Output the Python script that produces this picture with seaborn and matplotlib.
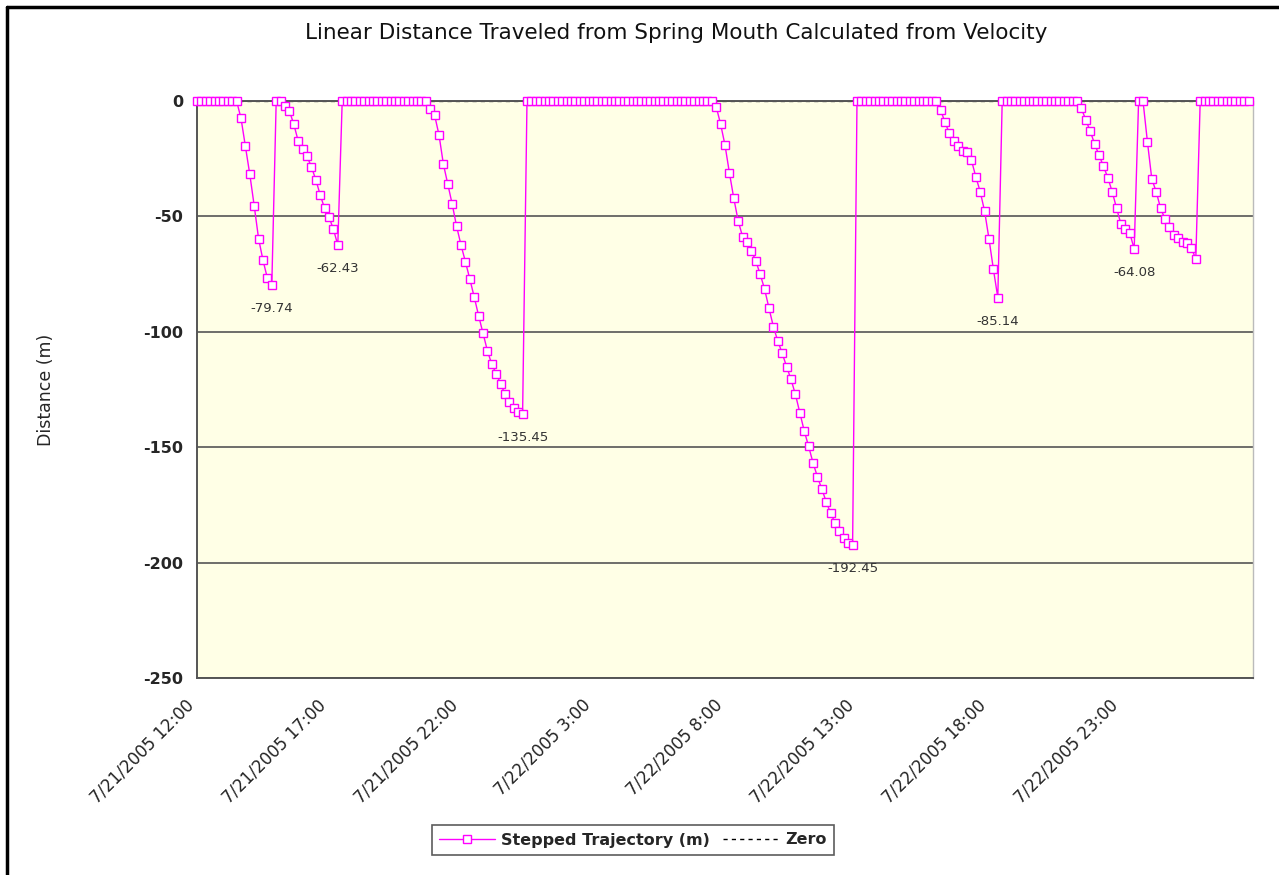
import pandas as pd
import matplotlib
matplotlib.use("Agg")
import matplotlib.pyplot as plt
import matplotlib.transforms as mtransforms
import seaborn as sns
from matplotlib.lines import Line2D

# readings every 10 minutes starting 7/21/2005 12:00
start_time = "2005-07-21 12:00"
seg1 = [-7.5, -19.5, -31.8, -45.4, -59.7, -69.0, -76.8, -79.74]
seg2 = [-2.0, -4.3, -10.1, -17.3, -20.8, -24.0, -28.5, -34.1, -40.7, -46.5,
        -50.3, -55.5, -62.43]
seg3 = [-3.5, -6.1, -14.7, -27.4, -36.1, -44.7, -54.3, -62.4, -69.6, -77.1,
        -84.9, -93.0, -100.7, -108.2, -114.1, -118.1, -122.6, -127.0, -130.6,
        -133.2, -134.6, -135.45]
seg4 = [-2.5, -10.0, -19.1, -31.1, -42.2, -52.0, -58.8, -61.2, -64.9, -69.3,
        -75.1, -81.5, -89.8, -97.8, -104.0, -109.3, -115.1, -120.6, -127.1,
        -135.1, -142.9, -149.6, -156.7, -162.8, -168.1, -173.6, -178.6, -182.7,
        -186.3, -189.5, -191.4, -192.45]
seg5 = [-3.9, -9.2, -14.0, -17.3, -19.4, -21.5, -22.2, -25.6, -32.8, -39.3,
        -47.7, -59.8, -72.9, -85.14]
seg6 = [-3.2, -8.2, -13.0, -18.6, -23.4, -28.2, -33.2, -39.3, -46.5, -53.4,
        -55.5, -57.3, -64.08]
seg7 = [-17.6, -33.8, -39.3, -46.5, -51.1, -54.5, -58.1, -59.5, -61.0, -61.5,
        -63.6, -68.5]

trajectory = ([0] * 10 + seg1 + [0] * 2 + seg2 + [0] * 20 + seg3 + [0] * 43 + seg4
              + [0] * 19 + seg5 + [0] * 18 + seg6 + [0] * 2 + seg7 + [0] * 12)
min_labels = [-79.74, -62.43, -135.45, -192.45, -85.14, -64.08]

tick_times = ["2005-07-21 12:00", "2005-07-21 17:00", "2005-07-21 22:00",
              "2005-07-22 03:00", "2005-07-22 08:00", "2005-07-22 13:00",
              "2005-07-22 18:00", "2005-07-22 23:00", "2005-07-23 04:00"]
tick_labels = ["7/21/2005 12:00", "7/21/2005 17:00", "7/21/2005 22:00",
               "7/22/2005 3:00", "7/22/2005 8:00", "7/22/2005 13:00",
               "7/22/2005 18:00", "7/22/2005 23:00", ""]
y_ticks = [0, -50, -100, -150, -200, -250]

df = pd.DataFrame({
    "time": pd.date_range(start_time, periods=len(trajectory), freq="10min"),
    "dist": trajectory,
})
df["zero"] = 0

sns.set_style("white")
plt.rcParams["font.family"] = ["DejaVu Sans"]

fig = plt.figure(figsize=(12.79, 8.75), dpi=100)
ax = fig.add_axes([197 / 1279, 1 - 678 / 875, (1253 - 197) / 1279, (678 - 101) / 875])
ax.set_facecolor("#FFFFE6")

# zero series sits under the top border, like in the original
sns.lineplot(data=df, x="time", y="zero", ax=ax, color="#555555", linewidth=1,
             linestyle=(0, (3, 3)), zorder=0.4)
sns.lineplot(data=df, x="time", y="dist", ax=ax, color="#FF00FF", linewidth=1,
             marker="s", markersize=5.5, markerfacecolor="white",
             markeredgecolor="#FF00FF", markeredgewidth=1, clip_on=False, zorder=3)

for v in min_labels:
    i = trajectory.index(v)
    ax.annotate(f"{v:.2f}", (df["time"][i], v), xytext=(0, -17),
                textcoords="offset points", ha="center", va="center",
                fontsize=9.5, color="#333333")

ax.set_ylim(-250, 0)
ax.set_xlim(pd.Timestamp(tick_times[0]), pd.Timestamp(tick_times[-1]))
ax.set_yticks(y_ticks)
ax.set_yticklabels([str(t) for t in y_ticks], fontsize=11.5, fontweight="bold")
ax.set_xticks(pd.to_datetime(tick_times))
ax.set_xticklabels(tick_labels, rotation=45, ha="right", rotation_mode="anchor",
                   fontsize=12, color="#222222")
ax.tick_params(axis="both", direction="inout", length=8, width=1, color="#444444", pad=6)
ax.tick_params(axis="x", pad=9)
shift = mtransforms.ScaledTranslation(-12 / 100, 0, fig.dpi_scale_trans)
for lab in ax.get_xticklabels():
    lab.set_transform(lab.get_transform() + shift)

ax.set_axisbelow(True)
ax.grid(axis="y", color="#555555", linewidth=1.2)
ax.grid(axis="x", visible=False)
for s in ["left", "bottom", "top"]:
    ax.spines[s].set_color("#555555")
    ax.spines[s].set_linewidth(1.4)
ax.spines["right"].set_color("#BBBBBB")
ax.spines["right"].set_linewidth(1)

ax.set_xlabel("")
ax.set_ylabel("Distance (m)", fontsize=12.5)
ax.yaxis.set_label_coords(-0.134, 0.5)

fig.text(676 / 1279, 1 - 33 / 875, "Linear Distance Traveled from Spring Mouth Calculated from Velocity",
         ha="center", va="center", fontsize=15.5, color="#111111")

handles = [
    Line2D([], [], color="#FF00FF", linewidth=1, marker="s", markersize=5.5,
           markerfacecolor="white", markeredgecolor="#FF00FF"),
    Line2D([], [], color="black", linewidth=1, linestyle=(0, (3, 3))),
]
leg = fig.legend(handles, ["Stepped Trajectory (m)", "Zero"], loc="center",
                 bbox_to_anchor=(633 / 1279, 1 - 840 / 875), ncol=2, frameon=True,
                 fancybox=False, edgecolor="#333333", handlelength=3.5,
                 columnspacing=0.8, handletextpad=0.4, borderpad=0.45,
                 prop={"size": 11.5, "weight": "bold"})
leg.get_frame().set_linewidth(1.2)

# figure frame on left and top
fig.add_artist(Line2D([7 / 1279, 7 / 1279], [0, 1 - 7 / 875], color="black", linewidth=2.5))
fig.add_artist(Line2D([7 / 1279, 1], [1 - 7 / 875, 1 - 7 / 875], color="black", linewidth=2.5))

fig.savefig("out.png", dpi=100)
